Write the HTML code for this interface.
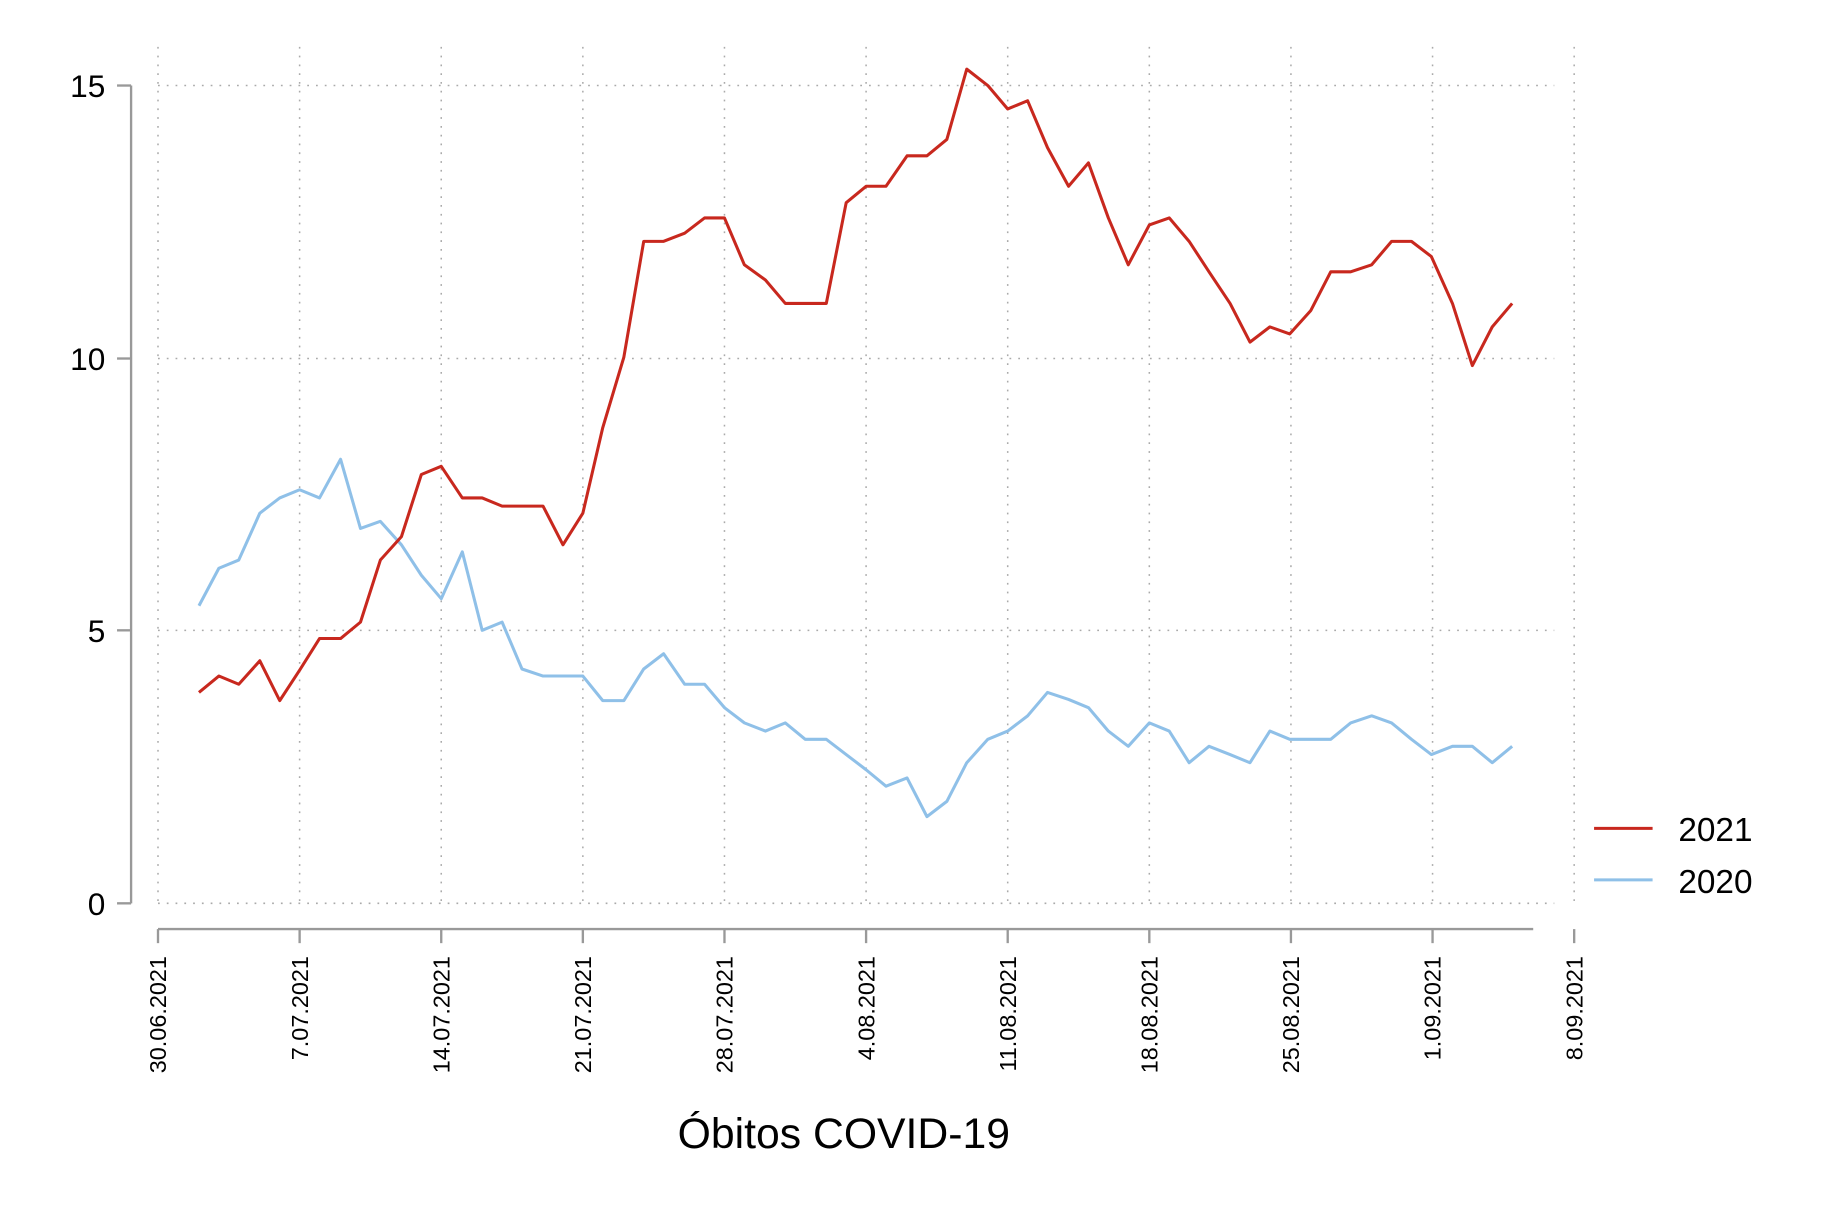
<!DOCTYPE html>
<html><head><meta charset="utf-8"><style>html,body{margin:0;padding:0;background:#fff}svg{display:block}</style></head>
<body>
<svg width="1834" height="1222" viewBox="0 0 1567 1043" preserveAspectRatio="none" xmlns="http://www.w3.org/2000/svg" font-family="Liberation Sans, sans-serif">
<g stroke="#aaa" stroke-width="1.3" stroke-dasharray="1.5,6" fill="none">
<line x1="135" y1="73" x2="1328" y2="73"/><line x1="135" y1="306" x2="1328" y2="306"/>
<line x1="135" y1="538" x2="1328" y2="538"/><line x1="135" y1="771" x2="1328" y2="771"/>
<line x1="135" y1="40" x2="135" y2="771"/><line x1="256" y1="40" x2="256" y2="771"/><line x1="377" y1="40" x2="377" y2="771"/><line x1="498" y1="40" x2="498" y2="771"/><line x1="619" y1="40" x2="619" y2="771"/><line x1="740" y1="40" x2="740" y2="771"/><line x1="861" y1="40" x2="861" y2="771"/><line x1="982" y1="40" x2="982" y2="771"/><line x1="1103" y1="40" x2="1103" y2="771"/><line x1="1224" y1="40" x2="1224" y2="771"/><line x1="1345" y1="40" x2="1345" y2="771"/>
</g>
<g stroke="#999" stroke-width="2" fill="none">
<line x1="112" y1="73" x2="112" y2="771"/>
<line x1="100" y1="73" x2="112" y2="73"/><line x1="100" y1="306" x2="112" y2="306"/><line x1="100" y1="538" x2="112" y2="538"/><line x1="100" y1="771" x2="112" y2="771"/>
<line x1="135" y1="793" x2="1310" y2="793"/>
<line x1="135" y1="793" x2="135" y2="805"/><line x1="256" y1="793" x2="256" y2="805"/><line x1="377" y1="793" x2="377" y2="805"/><line x1="498" y1="793" x2="498" y2="805"/><line x1="619" y1="793" x2="619" y2="805"/><line x1="740" y1="793" x2="740" y2="805"/><line x1="861" y1="793" x2="861" y2="805"/><line x1="982" y1="793" x2="982" y2="805"/><line x1="1103" y1="793" x2="1103" y2="805"/><line x1="1224" y1="793" x2="1224" y2="805"/><line x1="1345" y1="793" x2="1345" y2="805"/>
</g>
<g font-size="27" text-anchor="end" fill="#000">
<text x="90" y="83">15</text><text x="90" y="316">10</text><text x="90" y="548">5</text><text x="90" y="781">0</text>
</g>
<g font-size="20" text-anchor="end" fill="#000">
<text transform="translate(142,816) rotate(-90)">30.06.2021</text>
<text transform="translate(263,816) rotate(-90)">7.07.2021</text>
<text transform="translate(384,816) rotate(-90)">14.07.2021</text>
<text transform="translate(505,816) rotate(-90)">21.07.2021</text>
<text transform="translate(626,816) rotate(-90)">28.07.2021</text>
<text transform="translate(747,816) rotate(-90)">4.08.2021</text>
<text transform="translate(868,816) rotate(-90)">11.08.2021</text>
<text transform="translate(989,816) rotate(-90)">18.08.2021</text>
<text transform="translate(1110,816) rotate(-90)">25.08.2021</text>
<text transform="translate(1231,816) rotate(-90)">1.09.2021</text>
<text transform="translate(1352,816) rotate(-90)">8.09.2021</text>
</g>
<text x="721" y="980" font-size="36.5" text-anchor="middle" fill="#000">Óbitos COVID-19</text>
<polyline fill="none" stroke="#8fc0e8" stroke-width="2.6" stroke-linejoin="round" points="170,517 187,485 204,478 222,438 239,425 256,418 273,425 291,392 308,451 325,445 343,465 360,491 377,511 395,471 412,538 429,531 446,571 464,577 481,577 498,577 515,598 533,598 550,571 567,558 585,584 602,584 619,604 636,617 654,624 671,617 688,631 706,631 723,644 740,657 757,671 775,664 792,697 809,684 826,651 844,631 861,624 878,611 895,591 913,597 930,604 947,624 964,637 982,617 999,624 1016,651 1033,637 1051,644 1068,651 1085,624 1102,631 1120,631 1137,631 1154,617 1172,611 1189,617 1206,631 1223,644 1241,637 1258,637 1275,651 1292,637"/>
<polyline fill="none" stroke="#c8281e" stroke-width="2.6" stroke-linejoin="round" points="170,591 187,577 204,584 222,564 239,598 256,572 273,545 291,545 308,531 325,478 343,458 360,405 377,398 395,425 412,425 429,432 446,432 464,432 481,465 498,438 515,365 533,305 550,206 567,206 585,199 602,186 619,186 636,226 654,239 671,259 688,259 706,259 723,173 740,159 757,159 775,133 792,133 809,119 826,59 844,73 861,93 878,86 895,126 913,159 930,139 947,186 964,226 982,192 999,186 1016,206 1033,232 1051,259 1068,292 1085,279 1102,285 1120,265 1137,232 1154,232 1172,226 1189,206 1206,206 1223,219 1241,259 1258,312 1275,279 1292,259"/>
<line x1="1362" y1="707" x2="1412" y2="707" stroke="#c8281e" stroke-width="2.6"/>
<line x1="1362" y1="751" x2="1412" y2="751" stroke="#8fc0e8" stroke-width="2.6"/>
<text x="1434" y="718" font-size="28.5" fill="#000">2021</text>
<text x="1434" y="762" font-size="28.5" fill="#000">2020</text>
</svg>
</body></html>
